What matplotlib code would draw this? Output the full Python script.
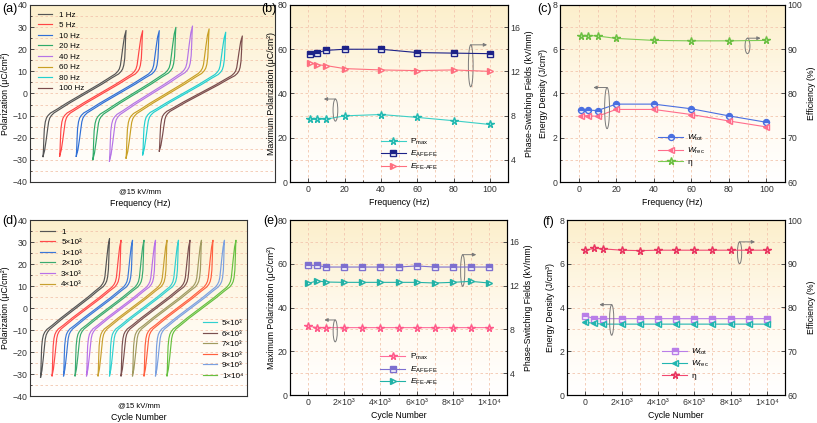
import numpy as np
import matplotlib.pyplot as plt
from matplotlib.patches import Ellipse
from matplotlib.colors import LinearSegmentedColormap
from matplotlib.ticker import MultipleLocator

plt.rcParams['font.family'] = ['Liberation Sans', 'DejaVu Sans']
plt.rcParams['mathtext.fontset'] = 'custom'
plt.rcParams['mathtext.rm'] = 'Liberation Sans'
plt.rcParams['mathtext.it'] = 'Liberation Sans:italic'
plt.rcParams['axes.linewidth'] = 0.8

# ---------------- data ----------------
freq = [1, 5, 10, 20, 40, 60, 80, 100]
freq_labels = ['1 Hz', '5 Hz', '10 Hz', '20 Hz', '40 Hz', '60 Hz', '80 Hz', '100 Hz']
pmax_freq = [28.5, 28.4, 28.4, 29.9, 30.5, 29.2, 27.7, 26.0]
e_afe_fe_freq = [13.6, 13.7, 13.9, 14.0, 14.0, 13.7, 13.65, 13.6]
e_fe_afe_freq = [12.76, 12.6, 12.52, 12.25, 12.13, 12.07, 12.13, 12.0]
wtot_freq = [3.25, 3.25, 3.23, 3.52, 3.52, 3.31, 2.99, 2.70]
wrec_freq = [2.99, 2.99, 2.97, 3.28, 3.28, 3.05, 2.76, 2.49]
eta_freq = [93.1, 93.1, 93.0, 92.45, 92.0, 91.9, 91.9, 92.0]

cycles = [1, 500, 1000, 2000, 3000, 4000, 5000, 6000, 7000, 8000, 9000, 10000]
cycle_labels = ['1', '5×10²', '1×10³', '2×10³', '3×10³', '4×10³',
                '5×10³', '6×10³', '7×10³', '8×10³', '9×10³', '1×10⁴']
pmax_cyc = [31.5, 30.8, 30.8, 30.8, 30.8, 30.8, 30.8, 30.8, 30.8, 30.8, 30.8, 30.8]
e_afe_fe_cyc = [13.85, 13.85, 13.7, 13.7, 13.7, 13.7, 13.7, 13.8, 13.7, 13.7, 13.7, 13.7]
e_fe_afe_cyc = [12.21, 12.43, 12.33, 12.3, 12.3, 12.3, 12.3, 12.3, 12.24, 12.3, 12.39, 12.24]
wtot_cyc = [3.62, 3.49, 3.49, 3.49, 3.49, 3.49, 3.49, 3.49, 3.49, 3.49, 3.49, 3.49]
wrec_cyc = [3.33, 3.27, 3.24, 3.24, 3.24, 3.24, 3.24, 3.24, 3.24, 3.24, 3.24, 3.24]
eta_cyc = [93.1, 93.5, 93.4, 93.1, 93.0, 93.1, 93.1, 93.1, 93.1, 93.1, 93.1, 93.1]

# P-E loop outline (field / Emax, P / Pmax)
loop_p = [-1.00, -0.90, -0.72, -0.56, -0.45, -0.39, -0.35, -0.31, -0.25, -0.15, 0.00,
          0.15, 0.25, 0.31, 0.35, 0.39, 0.45, 0.56, 0.72, 0.90, 1.00]
loop_up = [-1.00, -0.960, -0.920, -0.888, -0.865, -0.838, -0.800, -0.740, -0.595, -0.355, 0.035,
           0.425, 0.665, 0.820, 0.880, 0.918, 0.945, 0.968, 0.980, 0.990, 1.00]
loop_down = [-1.00, -0.990, -0.980, -0.968, -0.945, -0.918, -0.880, -0.820, -0.665, -0.425, -0.035,
             0.355, 0.595, 0.740, 0.800, 0.838, 0.865, 0.888, 0.920, 0.960, 1.00]
e_max = 15

freq_colors = ['#555555', '#ff4545', '#2f6fd6', '#2faa6a', '#b574e6', '#c9a024', '#22d0d0', '#7a4c4c']
cyc_colors = ['#555555', '#ff4a4a', '#3a78d8', '#3aaa70', '#b870e8', '#c8a030',
              '#30d0d0', '#7a5050', '#a09a60', '#ff6040', '#7aa0e0', '#66c040']

W, H = 817, 423
fig = plt.figure(figsize=(W / 100, H / 100), dpi=100)

bg = LinearSegmentedColormap.from_list('bg', ['#ffffff', '#fff9ec', '#fcefcb'])
grid_kw = dict(color='#f3c6ae', lw=0.6, ls=(0, (3, 3)))


def new_axes(l, r, t, b):
    return fig.add_axes([l / W, 1 - b / H, (r - l) / W, (b - t) / H])


def style(ax):
    ax.imshow(np.linspace(0, 1, 256).reshape(-1, 1), cmap=bg, aspect='auto',
              extent=[0, 1, 0, 1], transform=ax.transAxes, origin='lower', zorder=0)
    ax.set_axisbelow(True)
    for s in ax.spines.values():
        s.set_color('#333333')
    ax.tick_params(which='both', direction='in', labelsize=6.3, width=0.6, pad=2, colors='#333333')
    ax.tick_params(which='major', length=3)
    ax.tick_params(which='minor', length=1.5)


def style_right(ax2):
    ax2.tick_params(which='both', direction='in', labelsize=6.3, width=0.6, pad=2, colors='#333333')
    ax2.tick_params(which='major', length=3)
    ax2.tick_params(which='minor', length=1.5)


def panel_text(x, y, s):
    fig.text(x / W, 1 - y / H, s, fontsize=9, va='center', ha='left')


def ring(ax, x, y, w, h, dx):
    ax.add_patch(Ellipse((x, y), w, h, fill=False, ec='#7a7a7a', lw=0.7, zorder=5))
    ax.annotate('', xy=(x + dx, y + h / 2), xytext=(x, y + h / 2),
                arrowprops=dict(arrowstyle='-|>', color='#7a7a7a', lw=0.7,
                                mutation_scale=5, shrinkA=0, shrinkB=0), zorder=5)


def combined_legend(ax, ax2, anchor):
    h1, l1 = ax.get_legend_handles_labels()
    h2, l2 = ax2.get_legend_handles_labels()
    ax2.legend(h1 + h2, l1 + l2, loc='upper left', bbox_to_anchor=anchor, frameon=False,
               fontsize=6, handlelength=3, handletextpad=0.5, labelspacing=0.3, borderpad=0.2)


# ---------------- (a) loops vs frequency ----------------
ax = new_axes(30, 275, 5, 182)
style(ax)
for i, (lab, pm, col) in enumerate(zip(freq_labels, pmax_freq, freq_colors)):
    xs = 6 * i + e_max * np.r_[loop_up, loop_down[::-1]]
    ys = pm * np.r_[loop_p, loop_p[::-1]]
    ax.plot(xs, ys, color=col, lw=0.85, label=lab)
ax.set_xlim(-19.7, 68.8)
ax.set_ylim(-40, 40)
ax.yaxis.set_major_locator(MultipleLocator(10))
ax.yaxis.set_minor_locator(MultipleLocator(5))
ax.set_xticks([])
ax.grid(which='both', axis='y', **grid_kw)
ax.set_ylabel('Polarization (μC/cm²)', fontsize=6.3, labelpad=1.5)
ax.legend(loc='upper left', bbox_to_anchor=(0.01, 1.0), frameon=False, fontsize=5.8,
          handlelength=1.7, handletextpad=0.8, labelspacing=0.36, borderpad=0.25)
ax.text(0.449, -0.035, '@15 kV/mm', transform=ax.transAxes, ha='center', va='top', fontsize=5.5)
ax.text(0.449, -0.095, 'Frequency (Hz)', transform=ax.transAxes, ha='center', va='top', fontsize=6.3)
panel_text(2, 9, '(a)')

# ---------------- (b) Pmax and switching fields vs frequency ----------------
ax = new_axes(290, 508, 5, 182)
style(ax)
ax2 = ax.twinx()
ax.plot(freq, pmax_freq, color='#3ccfc6', lw=0.8, marker='*', ms=5.5, mfc='#9fe9e4',
        mec='#22b8b0', label='P$_{\\mathrm{max}}$')
ax2.plot(freq, e_afe_fe_freq, color='#1c2288', lw=0.8, marker='s', ms=4.3, fillstyle='top',
         mfc='#1c2288', mfcalt='white', mec='#1c2288',
         label='$E_{\\mathrm{AFE\\text{-}FE}}$')
ax2.plot(freq, e_fe_afe_freq, color='#ff6f7f', lw=0.8, marker='>', ms=4.8, fillstyle='left',
         mfc='#ff6f7f', mfcalt='white', mec='#ff6f7f',
         label='$E_{\\mathrm{FE\\text{-}AFE}}$')
ax.set_xlim(-10, 110)
ax.set_ylim(0, 80)
ax2.set_ylim(2, 18)
ax.xaxis.set_major_locator(MultipleLocator(20))
ax.xaxis.set_minor_locator(MultipleLocator(10))
ax.yaxis.set_major_locator(MultipleLocator(20))
ax.yaxis.set_minor_locator(MultipleLocator(10))
ax2.yaxis.set_major_locator(MultipleLocator(4))
ax2.yaxis.set_minor_locator(MultipleLocator(2))
style_right(ax2)
ax.grid(which='both', **grid_kw)
ax.set_ylabel('Maximum Polarization (μC/cm²)', fontsize=6.3, labelpad=1)
ax2.set_ylabel('Phase-Switching Fields (kV/mm)', fontsize=6.3, labelpad=3)
ax.set_xlabel('Frequency (Hz)', fontsize=6.3, labelpad=3)
ring(ax, 89.5, 52.5, 2.6, 19, 9)
ring(ax, 15, 32.5, 2.6, 10, -6.4)
combined_legend(ax, ax2, (0.39, 0.29))
panel_text(261, 9, '(b)')

# ---------------- (c) energy storage vs frequency ----------------
ax = new_axes(560, 785, 5, 182)
style(ax)
ax2 = ax.twinx()
ax.plot(freq, wtot_freq, color='#4a6fe0', lw=0.8, marker='o', ms=4.3, fillstyle='top',
        mfc='#4a6fe0', mfcalt='white', mec='#4a6fe0', label='$W_{\\mathrm{tot}}$')
ax.plot(freq, wrec_freq, color='#ff6d8c', lw=0.8, marker='<', ms=4.8, fillstyle='left',
        mfc='#ff6d8c', mfcalt='white', mec='#ff6d8c', label='$W_{\\mathrm{rec}}$')
ax2.plot(freq, eta_freq, color='#7dcc55', lw=0.8, marker='*', ms=5.5, mfc='#b7e69a',
         mec='#6cbf42', label='η')
ax.set_xlim(-10, 110)
ax.set_ylim(0, 8)
ax2.set_ylim(60, 100)
ax.xaxis.set_major_locator(MultipleLocator(20))
ax.xaxis.set_minor_locator(MultipleLocator(10))
ax.yaxis.set_major_locator(MultipleLocator(2))
ax.yaxis.set_minor_locator(MultipleLocator(1))
ax2.yaxis.set_major_locator(MultipleLocator(10))
ax2.yaxis.set_minor_locator(MultipleLocator(5))
style_right(ax2)
ax.grid(which='both', **grid_kw)
ax.set_ylabel('Energy Density (J/cm³)', fontsize=6.3, labelpad=3)
ax2.set_ylabel('Efficiency (%)', fontsize=6.3, labelpad=3)
ax.set_xlabel('Frequency (Hz)', fontsize=6.3, labelpad=3)
ring(ax, 90, 6.15, 2.6, 0.7, 7)
ring(ax, 15.1, 3.34, 2.6, 1.86, -7.3)
combined_legend(ax, ax2, (0.41, 0.31))
panel_text(537, 9, '(c)')

# ---------------- (d) loops vs cycle number ----------------
ax = new_axes(30, 247, 220, 396)
style(ax)
lines = []
for i, (lab, pm, col) in enumerate(zip(cycle_labels, pmax_cyc, cyc_colors)):
    xs = 5 * i + e_max * np.r_[loop_up, loop_down[::-1]]
    ys = pm * np.r_[loop_p, loop_p[::-1]]
    lines += ax.plot(xs, ys, color=col, lw=0.85, label=lab)
ax.set_xlim(-19.6, 74.8)
ax.set_ylim(-40, 40)
ax.yaxis.set_major_locator(MultipleLocator(10))
ax.yaxis.set_minor_locator(MultipleLocator(5))
ax.set_xticks([])
ax.grid(which='both', axis='y', **grid_kw)
ax.set_ylabel('Polarization (μC/cm²)', fontsize=6.3, labelpad=1.5)
leg1 = ax.legend(lines[:6], cycle_labels[:6], loc='upper left', bbox_to_anchor=(0.01, 1.0),
                 frameon=False, fontsize=5.8, handlelength=1.8, handletextpad=0.8,
                 labelspacing=0.36, borderpad=0.5)
ax.add_artist(leg1)
ax.legend(lines[6:], cycle_labels[6:], loc='lower left', bbox_to_anchor=(0.77, 0.06),
          frameon=False, fontsize=5.8, handlelength=1.8, handletextpad=0.6,
          labelspacing=0.36, borderpad=0.2)
ax.text(0.5, -0.035, '@15 kV/mm', transform=ax.transAxes, ha='center', va='top', fontsize=5.5)
ax.text(0.5, -0.095, 'Cycle Number', transform=ax.transAxes, ha='center', va='top', fontsize=6.3)
panel_text(2, 221, '(d)')

cyc_ticks = [0, 2000, 4000, 6000, 8000, 10000]
cyc_ticklabels = ['0', '2×10³', '4×10³', '6×10³', '8×10³', '1×10⁴']

# ---------------- (e) Pmax and switching fields vs cycles ----------------
ax = new_axes(290, 507, 220, 395)
style(ax)
ax2 = ax.twinx()
ax.plot(cycles, pmax_cyc, color='#ff6f9c', lw=0.8, marker='*', ms=5.5, mfc='#ffb3c9',
        mec='#ff5a8a', label='P$_{\\mathrm{max}}$')
ax2.plot(cycles, e_afe_fe_cyc, color='#7d6fcf', lw=0.8, marker='s', ms=4.3, fillstyle='top',
         mfc='#7d6fcf', mfcalt='white', mec='#7d6fcf',
         label='$E_{\\mathrm{AFE\\text{-}FE}}$')
ax2.plot(cycles, e_fe_afe_cyc, color='#22b2a6', lw=0.8, marker='>', ms=4.8, fillstyle='left',
         mfc='#22b2a6', mfcalt='white', mec='#22b2a6',
         label='$E_{\\mathrm{FE\\text{-}AFE}}$')
ax.set_xlim(-1000, 11000)
ax.set_ylim(0, 80)
ax2.set_ylim(2, 18)
ax.set_xticks(cyc_ticks, cyc_ticklabels)
ax.xaxis.set_minor_locator(MultipleLocator(1000))
ax.yaxis.set_major_locator(MultipleLocator(20))
ax.yaxis.set_minor_locator(MultipleLocator(10))
ax2.yaxis.set_major_locator(MultipleLocator(4))
ax2.yaxis.set_minor_locator(MultipleLocator(2))
style_right(ax2)
ax.grid(which='both', **grid_kw)
ax.set_ylabel('Maximum Polarization (μC/cm²)', fontsize=6.3, labelpad=1)
ax2.set_ylabel('Phase-Switching Fields (kV/mm)', fontsize=6.3, labelpad=3)
ax.set_xlabel('Cycle Number', fontsize=6.3, labelpad=3)
ring(ax, 8550, 56.9, 230, 14.5, 750)
ring(ax, 1500, 29.3, 230, 10, -600)
combined_legend(ax, ax2, (0.39, 0.28))
panel_text(263, 221, '(e)')

# ---------------- (f) energy storage vs cycles ----------------
ax = new_axes(567, 785, 220, 395)
style(ax)
ax2 = ax.twinx()
ax.plot(cycles, wtot_cyc, color='#b97ee8', lw=0.8, marker='s', ms=4.3, fillstyle='top',
        mfc='#b97ee8', mfcalt='white', mec='#b97ee8', label='$W_{\\mathrm{tot}}$')
ax.plot(cycles, wrec_cyc, color='#22b5b0', lw=0.8, marker='<', ms=4.8, fillstyle='left',
        mfc='#22b5b0', mfcalt='white', mec='#22b5b0', label='$W_{\\mathrm{rec}}$')
ax2.plot(cycles, eta_cyc, color='#f24a72', lw=0.8, marker='*', ms=5.5, mfc='#ff9fb5',
         mec='#e8355f', label='η')
ax.set_xlim(-1000, 11000)
ax.set_ylim(0, 8)
ax2.set_ylim(60, 100)
ax.set_xticks(cyc_ticks, cyc_ticklabels)
ax.xaxis.set_minor_locator(MultipleLocator(1000))
ax.yaxis.set_major_locator(MultipleLocator(2))
ax.yaxis.set_minor_locator(MultipleLocator(1))
ax2.yaxis.set_major_locator(MultipleLocator(10))
ax2.yaxis.set_minor_locator(MultipleLocator(5))
style_right(ax2)
ax.grid(which='both', **grid_kw)
ax.set_ylabel('Energy Density (J/cm³)', fontsize=6.3, labelpad=3)
ax2.set_ylabel('Efficiency (%)', fontsize=6.3, labelpad=3)
ax.set_xlabel('Cycle Number', fontsize=6.3, labelpad=3)
ring(ax, 8500, 6.5, 230, 1.0, 850)
ring(ax, 1460, 3.43, 230, 1.4, -680)
combined_legend(ax, ax2, (0.41, 0.31))
panel_text(542, 222, '(f)')

fig.savefig('out.png', dpi=100)
